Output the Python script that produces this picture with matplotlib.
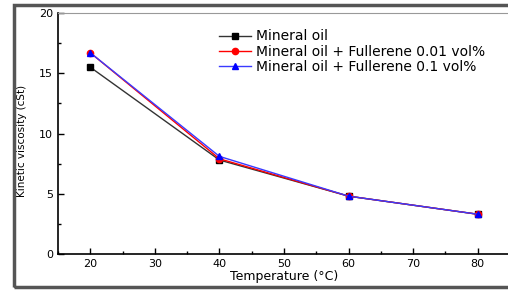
import matplotlib.pyplot as plt
from matplotlib.patches import Rectangle
from matplotlib.ticker import MultipleLocator

plt.rcParams['font.family'] = ['DejaVu Sans']

temperature = [20, 40, 60, 80]
mineral_oil = [15.5, 7.8, 4.8, 3.3]
fullerene_001 = [16.7, 7.9, 4.8, 3.3]
fullerene_01 = [16.7, 8.1, 4.8, 3.3]
labels = ['Mineral oil',
          'Mineral oil + Fullerene 0.01 vol%',
          'Mineral oil + Fullerene 0.1 vol%']

fig = plt.figure(figsize=(5.08, 2.92), dpi=100)
ax = fig.add_axes([58 / 508, 1 - 254 / 292, 452 / 508, 241 / 292])

ax.plot(temperature, mineral_oil, color='#333333', lw=1, marker='s', ms=4.5,
        mfc='black', mec='black', label=labels[0])
ax.plot(temperature, fullerene_001, color='red', lw=1, marker='o', ms=4.5,
        label=labels[1])
ax.plot(temperature, fullerene_01, color='#3a3aff', lw=1, marker='^', ms=4.5,
        mfc='blue', mec='blue', label=labels[2])

ax.set_xlim(15, 85)
ax.set_ylim(0, 20)
ax.xaxis.set_major_locator(MultipleLocator(10))
ax.xaxis.set_minor_locator(MultipleLocator(5))
ax.yaxis.set_major_locator(MultipleLocator(5))
ax.yaxis.set_minor_locator(MultipleLocator(2.5))
ax.tick_params(which='both', direction='in', labelsize=8, width=1)
ax.tick_params(which='major', length=4)
ax.tick_params(which='minor', length=2)
ax.spines['right'].set_visible(False)
ax.spines['top'].set_color('#999999')
ax.spines['left'].set_linewidth(1.2)
ax.spines['bottom'].set_linewidth(1.2)

ax.set_xlabel('Temperature (°C)', fontsize=9, labelpad=1)
ax.set_ylabel('Kinetic viscosity (cSt)', fontsize=7.5)
ax.yaxis.set_label_coords(-0.068, 0.47)

ax.legend(loc='upper left', bbox_to_anchor=(0.345, 0.955), frameon=False,
          fontsize=10, handlelength=2.3, handletextpad=0.3, labelspacing=0.1,
          borderaxespad=0)

# outer frame around the whole picture
fig.patches.append(Rectangle((14 / 508, 5 / 292), 1.05, 282 / 292,
                             transform=fig.transFigure, fill=False,
                             edgecolor='#555555', lw=2.5))

fig.savefig('out.png', dpi=100)
